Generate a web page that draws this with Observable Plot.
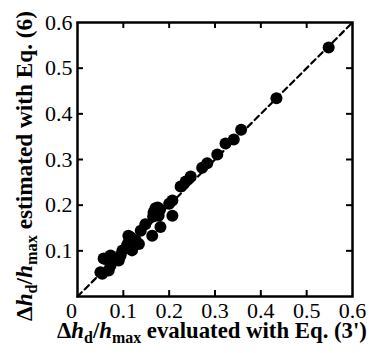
<!DOCTYPE html>
<html><head><meta charset="utf-8">
<script src="https://cdn.jsdelivr.net/npm/d3@7"></script>
<script src="https://cdn.jsdelivr.net/npm/@observablehq/plot@0.6"></script>
<style>body{margin:0;background:#fff}</style>
</head><body><div id="chart"></div>
<script>
// Δhd/hmax evaluated with Eq. (3')
const evaluatedEq3 = [0.548,0.434,0.357,0.341,0.323,0.305,0.283,0.272,0.247,0.236,0.225,0.207,0.200,0.170,0.166,0.177,0.207,0.181,0.163,0.148,0.138,0.127,0.134,0.116,0.108,0.119,0.094,0.072,0.061,0.072,0.054,0.175,0.180,0.165,0.111,0.111,0.098,0.090,0.068,0.050,0.057];
// Δhd/hmax estimated with Eq. (6)
const estimatedEq6 = [0.545,0.434,0.365,0.344,0.335,0.311,0.292,0.282,0.263,0.252,0.241,0.210,0.203,0.193,0.184,0.177,0.177,0.152,0.133,0.158,0.144,0.123,0.115,0.130,0.112,0.101,0.090,0.090,0.082,0.068,0.050,0.195,0.190,0.175,0.133,0.118,0.101,0.079,0.057,0.053,0.083];
const axisTicks = [0.1,0.2,0.3,0.4,0.5,0.6];
const innerTicks = [0.1,0.2,0.3,0.4,0.5];
const zeroTick = [0];
const diagonal = [0, 0.6];

const points = evaluatedEq3.map((x, i) => ({x, y: estimatedEq6[i]}));
const diag = diagonal.map(v => ({v}));

const W = 370, H = 353, mL = 77, mR = 18, mT = 22, mB = 57;
const innerW = W - mL - mR, innerH = H - mT - mB, tk = 6;
const serif = "'Liberation Serif', 'Times New Roman', serif";

const chart = Plot.plot({
  width: W, height: H,
  marginLeft: mL, marginRight: mR, marginTop: mT, marginBottom: mB,
  style: {fontFamily: serif, fontSize: "22px", color: "#000", background: "#fff"},
  x: {domain: [0, 0.6]},
  y: {domain: [0, 0.6]},
  marks: [
    Plot.line(diag, {x: "v", y: "v", stroke: "#000", strokeWidth: 2.2, strokeDasharray: "6,4"}),
    Plot.dot(points, {x: "x", y: "y", r: 6, fill: "#000", stroke: "none"}),
    Plot.tickX(innerTicks, {x: d => d, stroke: "#000", strokeWidth: 2, insetTop: innerH - tk}),
    Plot.tickX(innerTicks, {x: d => d, stroke: "#000", strokeWidth: 2, insetBottom: innerH - tk}),
    Plot.tickY(innerTicks, {y: d => d, stroke: "#000", strokeWidth: 2, insetRight: innerW - tk}),
    Plot.tickY(innerTicks, {y: d => d, stroke: "#000", strokeWidth: 2, insetLeft: innerW - tk}),
    Plot.frame({stroke: "#000", strokeWidth: 2.5}),
    Plot.axisX(axisTicks, {tickSize: 0, tickPadding: 6, label: null, tickFormat: d => String(d)}),
    Plot.axisX(zeroTick, {tickSize: 0, tickPadding: 6, label: null, dx: -6, tickFormat: d => String(d)}),
    Plot.axisY(axisTicks, {tickSize: 0, tickPadding: 5, label: null, tickFormat: d => String(d)})
  ]
});
document.getElementById("chart").appendChild(chart);

const svg = d3.select(chart);
function label(sel, rest, size) {
  sel.selectAll("*").remove();
  const sub = size * 0.7, sh = size * 0.22;
  sel.attr("font-family", serif).attr("font-weight", "bold").attr("font-size", size).attr("fill", "#000");
  sel.append("tspan").text("Δ");
  sel.append("tspan").attr("font-style", "italic").text("h");
  sel.append("tspan").attr("font-size", sub).attr("dy", sh).text("d");
  sel.append("tspan").attr("dy", -sh).text("/");
  sel.append("tspan").attr("font-style", "italic").text("h");
  sel.append("tspan").attr("font-size", sub).attr("dy", sh).text("max");
  sel.append("tspan").attr("dy", -sh).text(rest);
}
function fitLabel(sel, rest, target) {
  label(sel, rest, 23);
  const len = sel.node().getComputedTextLength();
  if (len > 0) label(sel, rest, Math.min(25, 23 * target / len));
}
fitLabel(svg.append("text").attr("x", 212).attr("y", 338).attr("text-anchor", "middle"),
  " evaluated with Eq. (3')", 310);
fitLabel(svg.append("text").attr("transform", "translate(32,166) rotate(-90)").attr("text-anchor", "middle"),
  " estimated with Eq. (6)", 310);
</script>
</body></html>
